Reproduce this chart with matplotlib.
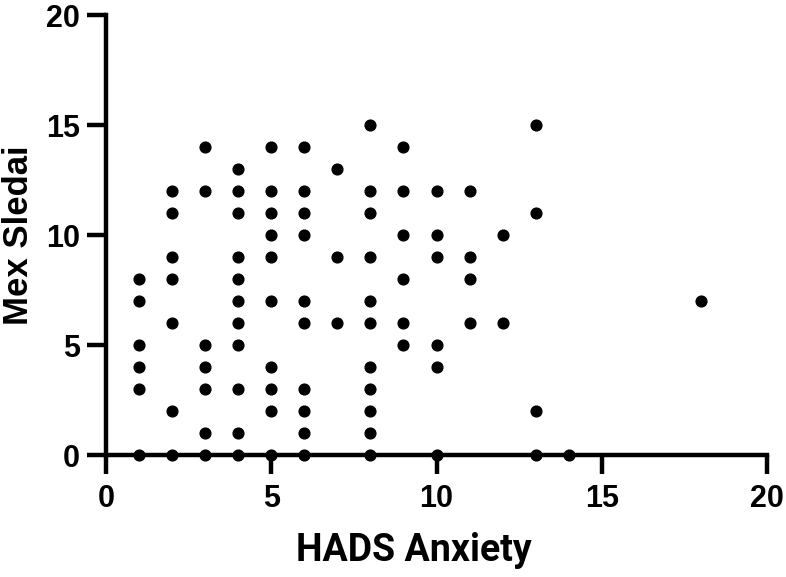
import matplotlib.pyplot as plt

# HADS Anxiety score and matching Mex Sledai values, read column by column
hads = [1, 1, 1, 1, 1, 1,
        2, 2, 2, 2, 2, 2, 2,
        3, 3, 3, 3, 3, 3, 3,
        4, 4, 4, 4, 4, 4, 4, 4, 4, 4, 4,
        5, 5, 5, 5, 5, 5, 5, 5, 5, 5,
        6, 6, 6, 6, 6, 6, 6, 6, 6, 6,
        7, 7, 7,
        8, 8, 8, 8, 8, 8, 8, 8, 8, 8, 8,
        9, 9, 9, 9, 9, 9,
        10, 10, 10, 10, 10, 10,
        11, 11, 11, 11,
        12, 12,
        13, 13, 13, 13,
        14,
        18]
sledai = [8, 7, 5, 4, 3, 0,
          12, 11, 9, 8, 6, 2, 0,
          14, 12, 5, 4, 3, 1, 0,
          13, 12, 11, 9, 8, 7, 6, 5, 3, 1, 0,
          14, 12, 11, 10, 9, 7, 4, 3, 2, 0,
          14, 12, 11, 10, 7, 6, 3, 2, 1, 0,
          13, 9, 6,
          15, 12, 11, 9, 7, 6, 4, 3, 2, 1, 0,
          14, 12, 10, 8, 6, 5,
          12, 10, 9, 5, 4, 0,
          12, 9, 8, 6,
          10, 6,
          15, 11, 2, 0,
          0,
          7]

ticks = [0, 5, 10, 15, 20]

fig = plt.figure(figsize=(7.86, 5.77), dpi=100)
ax = fig.add_axes([0.1349, 0.2114, 0.8409, 0.7626])

ax.scatter(hads, sledai, s=60, color='black', clip_on=False, zorder=3)

ax.set_xlim(0, 20)
ax.set_ylim(0, 20)
ax.set_xticks(ticks)
ax.set_yticks(ticks)
ax.set_xticklabels([str(t) for t in ticks], fontfamily='Liberation Sans', fontweight='bold', fontsize=22)
ax.set_yticklabels([str(t) for t in ticks], fontfamily='Liberation Sans', fontweight='bold', fontsize=22)

for side in ['top', 'right']:
    ax.spines[side].set_visible(False)
for side in ['left', 'bottom']:
    ax.spines[side].set_linewidth(3.2)
ax.tick_params(width=3.2, length=14, pad=5)
ax.tick_params(axis='x', pad=7)

ax.set_xlabel('HADS Anxiety', fontfamily='Roboto', fontweight='bold', fontsize=27)
ax.xaxis.set_label_coords(0.466, -0.175)
ax.set_ylabel('Mex Sledai', fontfamily='Liberation Sans', fontweight='bold', fontsize=25)
ax.yaxis.set_label_coords(-0.108, 0.5)

fig.savefig('out.png', dpi=100)
